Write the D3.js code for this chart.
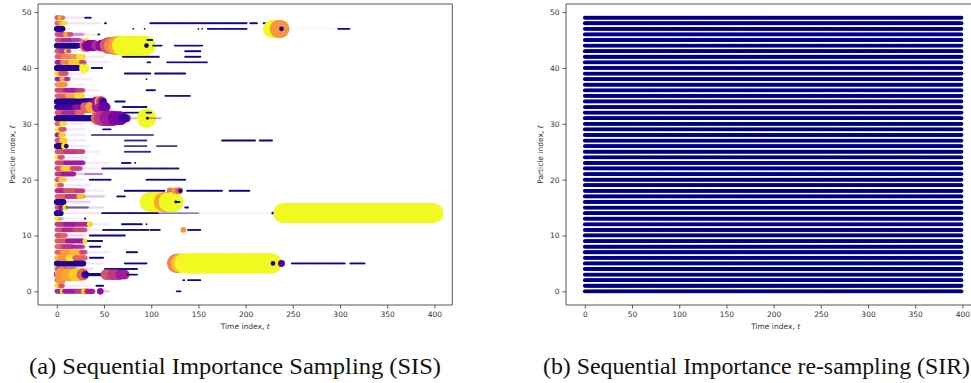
<!DOCTYPE html>
<html>
<head>
<meta charset="utf-8">
<script src="https://cdn.jsdelivr.net/npm/d3@7"></script>
<style>
  body { margin: 0; background: #fff; }
  .tick text { font-family: "DejaVu Sans", sans-serif; font-size: 7.5px; fill: #333; }
  .tick line { stroke: #333; stroke-width: 0.8; }
  .axlabel { font-family: "DejaVu Sans", sans-serif; font-size: 7.5px; fill: #333; }
  .caption { font-family: "Liberation Serif", "Times New Roman", Times, serif; font-size: 23px; fill: #111; }
</style>
</head>
<body>
<svg id="chart" width="971" height="383"></svg>
<script>
// ---- data ----
const timeTicks = [0, 50, 100, 150, 200, 250, 300, 350, 400];
const particleTicks = [0, 10, 20, 30, 40, 50];
const numParticles = 50;
const numSteps = 400;
const captions = ['(a) Sequential Importance Sampling (SIS)', '(b) Sequential Importance re-sampling (SIR)'];

// SIS: per particle (index 0..49), runs of [tStart, tEnd, weight, colourValue, alpha]
const sisRuns = [
  [[0,5,.055,.4,.9],[6,7,.065,.95,1],[8,20,.055,.35,.9],[21,28,.055,.45,.9],[29,31,.09,.9,1],[32,38,.065,.35,.9],[46,46,.1,.3,1],[47,55,.02,.35,.2],[127,131,.008,0,1]],
  [[0,3,.055,.9,.9],[4,6,.055,.55,.9],[7,35,.02,.35,.1],[42,49,.008,0,1]],
  [[0,1,.055,.6,.9],[2,6,.1,.75,1],[7,25,.02,.35,.1],[134,135,.008,0,1],[139,152,.008,0,1]],
  [[0,3,.08,.03,1],[4,10,.35,.75,1],[11,18,.35,.8,1],[19,26,.35,.9,1],[27,28,.3,.6,1],[30,30,.12,.05,1],[31,51,.025,.02,1],[52,58,.25,.55,1],[59,66,.25,.45,1],[67,72,.2,.35,1],[75,85,.008,0,1]],
  [[0,3,.055,.55,.9],[4,8,.055,.7,.9],[9,20,.04,.4,.5],[21,38,.02,.35,.15],[51,85,.008,0,1]],
  [[0,28,.08,.03,1],[29,50,.02,.2,.1],[72,95,.008,0,1],[127,130,.85,.7,1],[131,134,.85,.85,1],[135,228,.9,1,1],[229,229,.05,.02,1],[238,238,.11,.15,1],[249,305,.008,0,1],[311,326,.008,0,1]],
  [[0,4,.065,.85,.9],[5,12,.12,.75,.9],[13,18,.12,.95,.9],[19,30,.065,.6,.8],[31,50,.02,.35,.1],[35,49,.008,0,1]],
  [[0,5,.055,.6,.9],[6,15,.065,.75,.9],[16,25,.065,.85,.9],[26,30,.055,.5,.8],[31,55,.02,.35,.1],[74,85,.008,0,1]],
  [[0,6,.055,.6,.9],[7,16,.055,.45,.9],[17,28,.045,.35,.6],[29,45,.02,.35,.1],[35,46,.008,0,1]],
  [[0,10,.055,.55,.9],[11,28,.055,.35,.9],[30,30,.065,.95,1],[31,32,.02,.35,.1],[33,48,.008,0,1]],
  [[0,4,.055,.55,.9],[5,9,.055,.6,.9],[10,30,.02,.35,.15],[35,72,.008,0,1]],
  [[0,6,.055,.55,.9],[7,18,.055,.4,.9],[19,30,.055,.5,.8],[31,45,.02,.35,.1],[49,97,.008,0,1],[99,109,.008,0,1],[134,134,.07,.75,1],[139,152,.008,0,1]],
  [[0,8,.055,.45,.9],[9,20,.055,.35,.9],[21,34,.055,.4,.8],[35,35,.08,.95,1],[36,55,.02,.35,.1],[69,90,.008,0,1],[95,95,.008,0,1]],
  [[0,2,.055,.95,.9],[3,6,.03,.4,.3],[7,28,.015,.35,.1],[30,30,.012,0,1]],
  [[0,4,.08,.03,1],[5,45,.02,.2,.1],[48,107,.008,0,1],[108,150,.008,0,.5],[151,228,.01,.3,.08],[229,229,.02,0,1],[240,399,.9,1,1]],
  [[0,3,.055,.55,.9],[4,8,.055,.3,.9],[9,9,.08,.95,1],[10,33,.015,.05,.5],[34,50,.015,.2,.15],[136,139,.008,0,1]],
  [[0,7,.08,.03,1],[8,35,.02,.2,.15],[98,112,.85,1,1],[113,117,.85,.8,1],[118,124,.85,1,1],[126,126,.02,0,1],[127,130,.008,0,1]],
  [[0,10,.055,.6,.9],[11,22,.055,.45,.9],[23,28,.05,.85,.9],[29,50,.02,.3,.2],[64,72,.008,0,1]],
  [[0,8,.055,.4,.9],[9,20,.055,.55,.9],[21,28,.05,.45,.8],[29,50,.02,.35,.1],[72,114,.008,0,1],[120,120,.1,.65,1],[125,125,.1,.75,1],[129,130,.1,.55,1],[131,131,.04,0,1],[138,175,.008,0,1],[183,204,.008,0,1]],
  [[0,2,.055,.9,.9],[3,5,.05,.55,.9],[6,35,.02,.35,.1]],
  [[0,3,.055,.55,.9],[4,8,.055,.9,.9],[9,30,.02,.35,.1],[35,57,.008,0,1],[95,136,.008,0,1]],
  [[0,5,.055,.45,.9],[6,18,.055,.35,.9],[19,30,.02,.35,.2],[30,48,.012,.3,.5]],
  [[0,5,.055,.55,.9],[6,15,.055,.9,.9],[16,25,.055,.5,.8],[26,45,.02,.35,.1],[48,129,.008,0,.9]],
  [[0,8,.055,.5,.9],[9,28,.055,.35,.8],[29,55,.02,.35,.1],[69,78,.008,0,1],[83,83,.008,0,1]],
  [[0,2,.055,.95,.9],[3,6,.05,.55,.9],[7,33,.02,.35,.1]],
  [[0,8,.055,.55,.9],[9,20,.055,.45,.9],[21,28,.05,.5,.8],[29,45,.02,.35,.1],[72,99,.008,0,.8]],
  [[0,7,.08,.03,1],[8,9,.1,.95,1],[10,10,.05,.05,1],[11,35,.02,.3,.1],[72,95,.008,0,.8],[106,127,.008,0,.8]],
  [[0,4,.055,.55,.9],[5,9,.055,.9,.9],[10,30,.02,.35,.1],[72,95,.008,0,.8],[175,210,.008,0,1],[215,228,.008,0,1]],
  [[0,3,.055,.35,.9],[4,7,.055,.9,.9],[8,30,.02,.35,.1],[37,102,.008,0,.7]],
  [[0,3,.055,.95,.9],[4,8,.055,.55,.9],[9,30,.02,.35,.1],[49,57,.008,0,1]],
  [[0,4,.055,.6,.9],[5,8,.055,.95,.9],[9,30,.02,.35,.1]],
  [[0,42,.08,.03,1],[43,46,.4,.6,1],[47,52,.5,.45,1],[53,60,.5,.35,1],[61,68,.4,.25,1],[69,74,.15,.1,.8],[75,90,.02,.2,.2],[95,95,.85,1,1],[96,96,.02,0,1],[97,110,.008,.2,.4]],
  [[0,6,.055,.55,.9],[7,20,.055,.4,.9],[21,28,.055,.6,.8],[29,50,.02,.35,.1],[72,100,.008,0,1]],
  [[0,18,.07,.1,1],[19,30,.07,.3,.9],[31,36,.3,.6,1],[37,42,.35,.8,1],[43,48,.3,.35,1],[49,52,.2,.2,.9],[70,95,.008,0,1]],
  [[0,32,.08,.03,1],[33,40,.1,.1,.8],[41,45,.2,.3,.8],[46,46,.3,.85,1],[47,47,.25,.5,1],[48,49,.12,.2,1],[50,50,.06,.05,1],[62,72,.008,0,1]],
  [[0,10,.055,.6,.9],[11,20,.055,.8,.9],[21,27,.065,.95,.9],[28,50,.02,.4,.1],[115,141,.008,0,1]],
  [[0,8,.055,.5,.9],[9,20,.055,.35,.8],[21,28,.05,.45,.7],[29,45,.02,.35,.1],[95,104,.008,0,1]],
  [[0,9,.055,.75,.9],[10,30,.02,.4,.1]],
  [[0,4,.055,.35,.9],[5,9,.055,.8,.9],[10,12,.05,.4,.8],[13,35,.02,.35,.1],[95,95,.008,0,1]],
  [[0,3,.055,.9,.9],[4,10,.055,.55,.9],[11,30,.02,.35,.1],[72,99,.008,0,1],[104,136,.008,0,1]],
  [[0,22,.08,.03,1],[23,27,.02,.2,.3],[29,29,.23,1,1],[37,48,.008,0,1]],
  [[0,5,.05,.35,.9],[6,14,.055,.7,.9],[15,25,.065,.9,.9],[26,29,.05,.45,.8],[30,55,.02,.35,.1],[96,99,.008,0,1],[117,159,.008,0,1]],
  [[0,6,.055,.6,.9],[7,15,.055,.7,.9],[16,22,.055,.75,.9],[23,28,.065,.95,.9],[29,50,.02,.35,.1],[70,108,.008,0,1],[136,152,.008,0,1]],
  [[0,4,.055,.55,.9],[5,9,.055,.45,.9],[10,11,.05,.95,.9],[12,13,.05,.5,.8],[14,40,.02,.35,.1],[70,93,.008,0,1],[136,152,.008,0,1]],
  [[0,22,.08,.03,1],[23,30,.05,.1,.6],[31,31,.38,.6,1],[32,33,.25,.3,1],[34,40,.25,.25,1],[41,46,.2,.4,.8],[47,53,.3,.3,1],[54,58,.6,.55,1],[59,63,.7,.7,1],[64,68,.8,.8,1],[69,94,.9,1,1],[95,95,.05,0,1],[102,111,.008,0,1],[125,154,.008,0,1]],
  [[0,6,.05,.5,.9],[7,14,.05,.4,.8],[15,25,.045,.35,.5],[26,30,.02,.35,.2],[32,32,.05,.95,1],[96,101,.008,0,1]],
  [[0,3,.055,.55,.9],[4,8,.055,.5,.9],[9,12,.055,.8,.9],[13,15,.05,.55,.8],[16,28,.03,.35,.3],[29,42,.02,.35,.1],[44,45,.008,0,1]],
  [[0,6,.08,.03,1],[7,14,.02,.3,.1],[81,81,.008,0,1],[93,93,.008,0,1],[150,150,.008,0,1],[154,154,.008,0,1],[160,201,.008,0,1],[228,234,.73,1,1],[235,237,.73,.75,1],[238,238,.05,0,1],[239,297,.01,.3,.06],[298,310,.008,0,1]],
  [[0,3,.055,.6,.9],[4,6,.055,.8,.9],[7,9,.05,.95,.8],[10,46,.02,.4,.12],[51,52,.008,0,1],[99,201,.008,0,1],[205,212,.008,0,1],[219,236,.008,0,1]],
  [[0,2,.055,.55,.9],[3,5,.055,.85,.9],[6,7,.045,.6,.7],[8,28,.02,.35,.12],[30,36,.008,0,1]]
];

// ---- layout ----
const svg = d3.select('#chart');
const plotTop = 4, plotBottom = 305;
const panels = [
  { x0: 38, x1: 452.3, right: true },
  { x0: 566, x1: 980.3, right: false }
];

const y = d3.scaleLinear().domain([-2.45, 51.45]).range([plotBottom, plotTop]);
const rScale = d3.scaleSqrt().domain([0, 1]).range([0, 10.5]);
const alphaScale = d3.scalePow().exponent(1.5).domain([0, 1]).range([0, 1]);
const sirColor = '#00008b';

panels.forEach(function(p, k) {
  p.x = d3.scaleLinear().domain([-19.95, 418.95]).range([p.x0, p.x1]);
  const g = svg.append('g');

  svg.append('clipPath').attr('id', 'clip' + k)
    .append('rect').attr('x', p.x0).attr('y', plotTop).attr('width', p.x1 - p.x0).attr('height', plotBottom - plotTop);

  const marks = g.append('g').attr('clip-path', 'url(#clip' + k + ')');

  if (k === 0) {
    // flatten runs into points, drawn in time order
    let pts = [];
    sisRuns.forEach(function(runs, i) {
      runs.forEach(function(r) {
        for (let t = r[0]; t <= r[1]; t++) pts.push({ t: t, i: i, w: r[2], c: r[3], a: r[4] });
      });
    });
    pts.sort(function(a, b) { return a.t - b.t || a.i - b.i; });
    marks.selectAll('circle').data(pts).enter().append('circle')
      .attr('cx', d => p.x(d.t))
      .attr('cy', d => y(d.i))
      .attr('r', d => rScale(d.w))
      .attr('fill', d => d3.interpolatePlasma(d.c))
      .attr('fill-opacity', d => alphaScale(d.a));
  } else {
    const rows = d3.range(numParticles);
    const steps = d3.range(numSteps);
    rows.forEach(function(i) {
      marks.append('g').selectAll('circle').data(steps).enter().append('circle')
        .attr('cx', t => p.x(t))
        .attr('cy', y(i))
        .attr('r', 1.9)
        .attr('fill', sirColor);
    });
  }

  // spines
  const sp = g.append('g').attr('stroke', '#444').attr('stroke-width', 0.9).attr('fill', 'none');
  sp.append('line').attr('x1', p.x0).attr('x2', p.x1).attr('y1', plotTop).attr('y2', plotTop);
  sp.append('line').attr('x1', p.x0).attr('x2', p.x1).attr('y1', plotBottom).attr('y2', plotBottom);
  sp.append('line').attr('x1', p.x0).attr('x2', p.x0).attr('y1', plotTop).attr('y2', plotBottom);
  if (p.right) sp.append('line').attr('x1', p.x1).attr('x2', p.x1).attr('y1', plotTop).attr('y2', plotBottom);

  // axes
  const xAxis = d3.axisBottom(p.x).tickValues(timeTicks).tickSize(3.5).tickPadding(3);
  const yAxis = d3.axisLeft(y).tickValues(particleTicks).tickSize(3.5).tickPadding(3);
  g.append('g').attr('transform', 'translate(0,' + plotBottom + ')').call(xAxis).call(a => a.select('.domain').remove());
  g.append('g').attr('transform', 'translate(' + p.x0 + ',0)').call(yAxis).call(a => a.select('.domain').remove());

  // axis labels
  const xl = g.append('text').attr('class', 'axlabel')
    .attr('x', (p.x0 + p.x1) / 2).attr('y', 329).attr('text-anchor', 'middle');
  xl.append('tspan').text('Time index, ');
  xl.append('tspan').attr('font-style', 'italic').text('t');
  if (k === 1) xl.attr('x', (p.x(0) + p.x(400)) / 2 + 2);

  const yl = g.append('text').attr('class', 'axlabel')
    .attr('transform', 'translate(' + (p.x0 - 23) + ',' + ((plotTop + plotBottom) / 2) + ') rotate(-90)')
    .attr('text-anchor', 'middle');
  yl.append('tspan').text('Particle index, ');
  yl.append('tspan').attr('font-style', 'italic').text('ℓ');
});

// captions
const capPos = [[29, 412], [543, 427]];
captions.forEach(function(c, k) {
  svg.append('text').attr('class', 'caption')
    .attr('x', capPos[k][0]).attr('y', 374)
    .attr('textLength', capPos[k][1]).attr('lengthAdjust', 'spacingAndGlyphs')
    .text(c);
});
</script>
</body>
</html>
